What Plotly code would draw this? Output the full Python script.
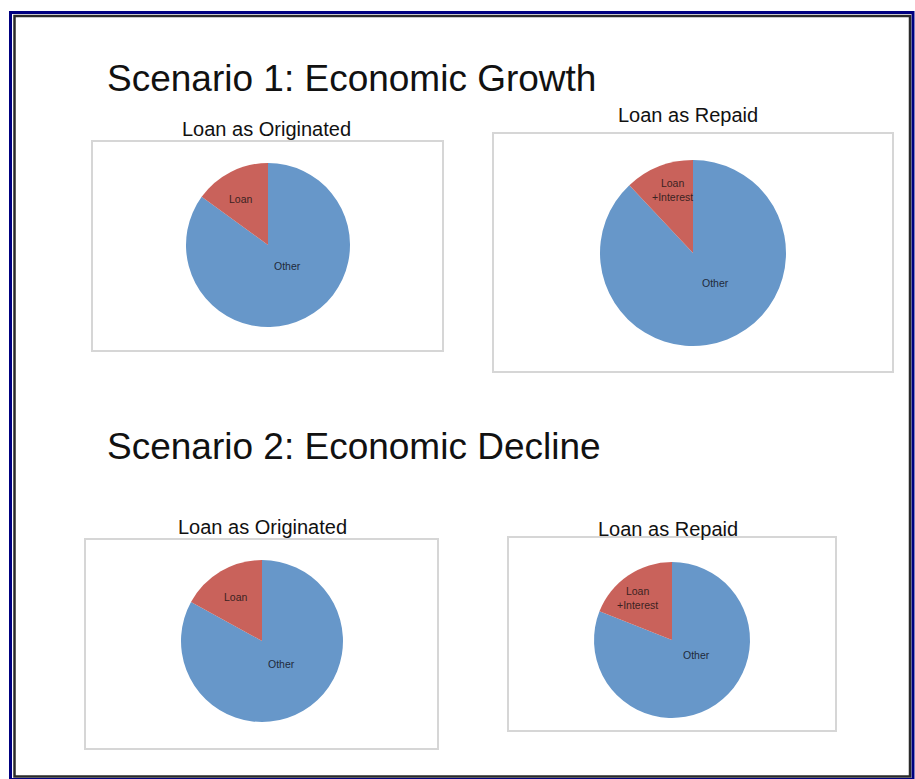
import plotly.graph_objects as go

W, H = 915, 779

# data (share of the pie, in %); "Other" first so the
# loan slice ends at 12 o'clock on the left, as in the original
originated_labels = ["Other", "Loan"]
repaid_labels = ["Other", "Loan<br>+Interest"]
growth_originated = [85, 15]
growth_repaid = [88, 12]
decline_originated = [83, 17]
decline_repaid = [81, 19]

section_titles = ["Scenario 1: Economic Growth", "Scenario 2: Economic Decline"]
chart_titles = ["Loan as Originated", "Loan as Repaid"]

RED = "#c9625b"
BLUE = "#6797c9"
FONT = "Liberation Sans, Arial, sans-serif"


def fx(x):
    return x / W


def fy(y):
    return 1 - y / H


# layout of each boxed pie, in pixels of the screenshot
panels = [
    dict(values=growth_originated, labels=originated_labels, title=chart_titles[0],
         center=(268, 245), r=82, box=(92, 141, 443, 351), title_xy=(266, 129),
         label_xy=[(287, 266), (241, 199)]),
    dict(values=growth_repaid, labels=repaid_labels, title=chart_titles[1],
         center=(693, 253), r=93, box=(493, 133, 893, 372), title_xy=(688, 115),
         label_xy=[(715, 283), (672, 190)]),
    dict(values=decline_originated, labels=originated_labels, title=chart_titles[0],
         center=(262, 641), r=81, box=(85, 539, 438, 749), title_xy=(262, 527),
         label_xy=[(281, 664), (236, 597)]),
    dict(values=decline_repaid, labels=repaid_labels, title=chart_titles[1],
         center=(672, 640), r=78, box=(508, 537, 836, 731), title_xy=(668, 529),
         label_xy=[(696, 655), (637, 598)]),
]

fig = go.Figure()
shapes = []
annotations = []


def note(text, x, y, size, color, xanchor="center"):
    return dict(text=text, x=fx(x), y=fy(y), xref="paper", yref="paper",
                xanchor=xanchor, yanchor="middle", showarrow=False,
                font=dict(size=size, color=color, family=FONT))


for p in panels:
    cx, cy = p["center"]
    r = p["r"]
    fig.add_trace(go.Pie(
        values=p["values"],
        labels=p["labels"],
        sort=False,
        direction="clockwise",
        rotation=0,
        textinfo="none",
        marker=dict(colors=[BLUE, RED], line=dict(width=0)),
        domain=dict(x=[fx(cx - r), fx(cx + r)], y=[fy(cy + r), fy(cy - r)]),
        showlegend=False,
    ))
    x0, y0, x1, y1 = p["box"]
    shapes.append(dict(type="rect", xref="paper", yref="paper",
                       x0=fx(x0), x1=fx(x1), y0=fy(y1), y1=fy(y0),
                       line=dict(color="#d6d6d6", width=2), layer="below"))
    tx, ty = p["title_xy"]
    annotations.append(note(p["title"], tx, ty, 20, "#111111"))
    for lab, (lx, ly), col in zip(p["labels"], p["label_xy"], ["#1e2a3c", "#3b2222"]):
        annotations.append(note(lab, lx, ly, 10.5, col))

for title, (tx, ty) in zip(section_titles, [(105, 78), (105, 446)]):
    annotations.append(note(title, tx, ty, 37, "#111111", xanchor="left"))

# page frame: navy outer line, dark inner line
shapes.append(dict(type="rect", xref="paper", yref="paper",
                   x0=fx(10.5), x1=fx(913), y0=fy(779.5), y1=fy(12.5),
                   line=dict(color="#000080", width=3)))
shapes.append(dict(type="rect", xref="paper", yref="paper",
                   x0=fx(14.5), x1=fx(910), y0=fy(776.5), y1=fy(16),
                   line=dict(color="#2a2a2a", width=2.5)))

fig.update_layout(
    width=W,
    height=H,
    margin=dict(l=0, r=0, t=0, b=0),
    paper_bgcolor="white",
    plot_bgcolor="white",
    shapes=shapes,
    annotations=annotations,
)

# drop the default page margin so the figure sits at the window's corner
fig.write_html("out.html",
               config={"displayModeBar": False},
               post_script="document.body.style.margin='0';document.body.style.overflow='hidden';")
